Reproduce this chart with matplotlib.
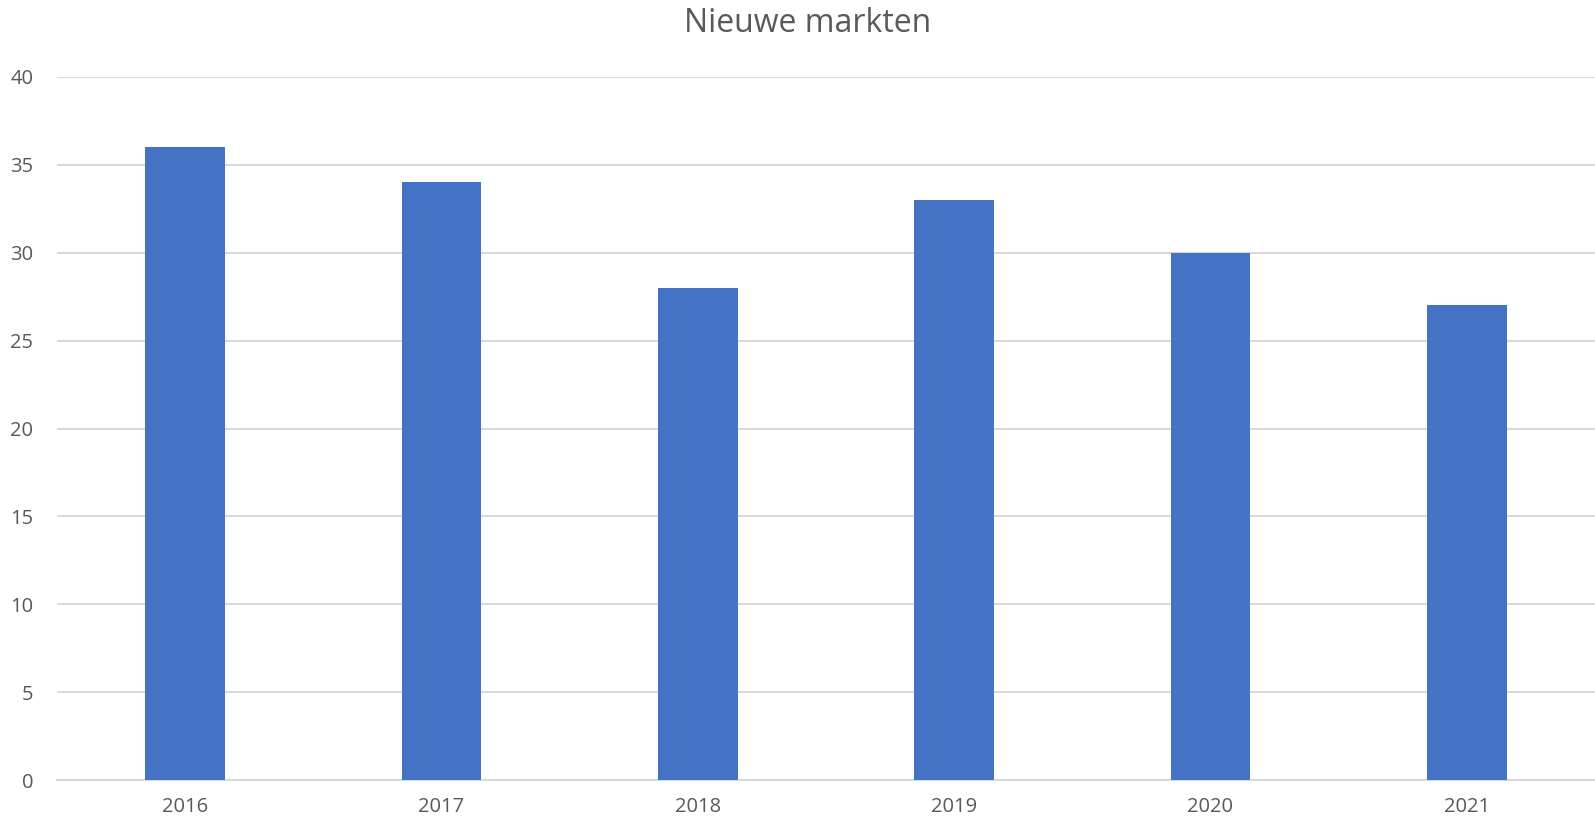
import matplotlib
matplotlib.use("Agg")
import matplotlib.pyplot as plt
import numpy as np

# data
jaren = ['2016', '2017', '2018', '2019', '2020', '2021']
aantallen = [36, 34, 28, 33, 30, 27]
yticks = [0, 5, 10, 15, 20, 25, 30, 35, 40]

grijs = '#595959'
plt.rcParams['font.family'] = ['Open Sans', 'DejaVu Sans']

fig = plt.figure(figsize=(15.95, 8.23), dpi=100)
ax = fig.add_axes([57 / 1595, 43 / 823, 1 - 57 / 1595, (780 - 77) / 823])

x = np.arange(len(jaren))
ax.bar(x, aantallen, width=0.312, color='#4472C4', linewidth=0, zorder=3)

ax.set_xlim(-0.5, len(jaren) - 0.5)
ax.set_ylim(0, 40)
ax.set_yticks(yticks)
ax.set_xticks(x)
ax.set_xticklabels(jaren)

ax.grid(axis='y', color='#D9D9D9', linewidth=1.5, zorder=0)
for s in ['top', 'right', 'left']:
    ax.spines[s].set_visible(False)
ax.spines['bottom'].set_color('#D9D9D9')
ax.spines['bottom'].set_linewidth(1.5)

ax.tick_params(axis='both', length=0, labelsize=14.5, labelcolor=grijs)
ax.tick_params(axis='y', pad=17)
ax.tick_params(axis='x', pad=12)

fig.text(808 / 1595, 1 - 24 / 823, 'Nieuwe markten', ha='center', va='center',
         fontsize=23, color=grijs)

fig.savefig('out.png', dpi=100)
